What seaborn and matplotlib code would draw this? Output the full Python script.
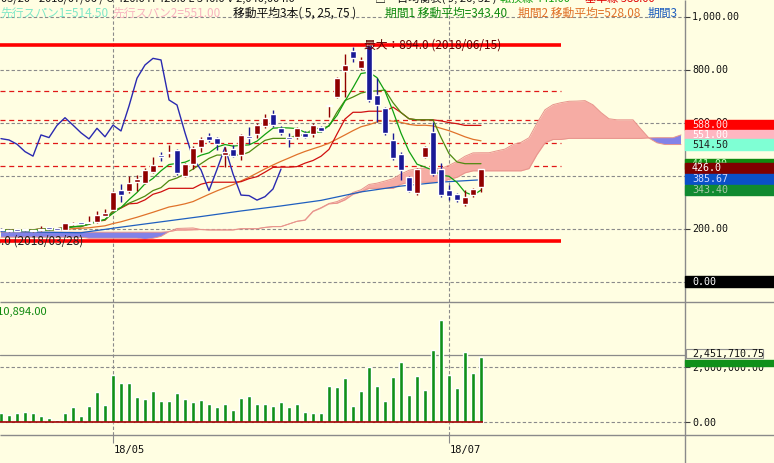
import numpy as np
import pandas as pd
import matplotlib
matplotlib.use('Agg')
import matplotlib.pyplot as plt
from matplotlib.patches import Rectangle
import seaborn as sns

# ローソク足 (日足, 61本)
opens = [200, 198, 197, 197, 192, 196, 207, 199, 197, 218, 225, 222, 225, 250, 272, 347,
         343, 379, 375, 414, 479, 486, 498, 400, 445, 508, 551, 545, 479, 501, 478, 548,
         557, 589, 634, 582, 548, 548, 563, 559, 584, 664, 699, 797, 873, 806, 894, 705,
         655, 536, 483, 397, 337, 473, 567, 425, 347, 331, 293, 328, 360]
highs = [203, 200, 199, 199, 198, 212, 209, 201, 222, 228, 227, 248, 268, 276, 342, 368,
         400, 404, 430, 472, 490, 517, 502, 450, 512, 548, 563, 548, 508, 517, 560, 585,
         600, 634, 649, 590, 561, 585, 570, 600, 590, 666, 772, 860, 886, 850, 894, 769,
         660, 561, 490, 400, 432, 512, 605, 449, 366, 335, 347, 355, 428]
lows = [193, 190, 192, 193, 190, 194, 198, 195, 195, 216, 218, 218, 222, 248, 268, 300,
        335, 345, 370, 410, 457, 473, 405, 395, 426, 492, 530, 498, 435, 470, 460, 521,
        545, 580, 585, 555, 510, 540, 545, 548, 565, 624, 695, 700, 831, 800, 680, 605,
        555, 460, 385, 338, 330, 468, 400, 322, 309, 301, 288, 322, 340]
closes = [195, 193, 194, 195, 196, 197, 200, 197, 221, 224, 220, 224, 253, 259, 340, 328,
          374, 388, 423, 442, 471, 492, 410, 445, 505, 541, 536, 520, 492, 475, 555, 545,
          591, 620, 592, 563, 540, 580, 548, 592, 570, 664, 769, 819, 844, 838, 687, 668,
          563, 467, 423, 345, 425, 508, 408, 328, 326, 309, 322, 351, 426]
# 出来高 (百万株)
volumes = [0.32, 0.25, 0.32, 0.36, 0.32, 0.22, 0.13, 0.09, 0.32, 0.53, 0.22, 0.58, 1.09,
           0.62, 1.70, 1.41, 1.41, 0.90, 0.84, 1.13, 0.76, 0.76, 1.04, 0.84, 0.72, 0.80,
           0.65, 0.54, 0.64, 0.44, 0.88, 0.95, 0.64, 0.64, 0.59, 0.72, 0.53, 0.64, 0.35,
           0.33, 0.33, 1.31, 1.26, 1.60, 0.60, 1.13, 1.99, 1.31, 0.75, 1.62, 2.18, 0.97,
           1.67, 1.16, 2.62, 3.71, 1.70, 1.22, 2.56, 1.77, 2.36]

# 表示期間より前のデータに依存する部分
span1_early = [169, 169, 169, 169, 169, 169, 169, 169, 169, 169, 169, 165, 165, 165, 165,
               165, 165, 165, 161, 165, 172, 190, 202, 203, 204]
span2_early = [188, 188, 188, 188, 188, 188, 188, 188, 188, 188, 188, 188, 188, 188, 188,
               188, 188, 188, 188, 188, 188, 190, 196, 196, 197]
ma75_idx = [0, 5, 10, 15, 20, 25, 30, 35, 40, 45, 50, 55, 60]
ma75_val = [190, 188, 186, 207, 227, 247, 268, 287, 308, 340, 362, 377, 385.67]

hi_price, hi_idx, hi_date = 894.0, 46, '2018/06/15'
lo_price, lo_date = 153.0, '2018/03/28'
fib_ratios = [0.236, 0.382, 0.5, 0.618]

month_idx = [14, 56]
month_labels = ['18/05', '18/07']
price_ticks = [0, 200, 400, 600, 800, 1000]
vol_ticks = [0, 2000000]
vol_avg = 2451710.75

last = {'tenkan': 441.00, 'kijun': 588.00, 'span1': 514.50, 'span2': 551.00,
        'ma5': 343.40, 'ma25': 528.08, 'ma75': 385.67, 'close': 426.0}

# 指標計算
df = pd.DataFrame({'o': opens, 'h': highs, 'l': lows, 'c': closes})
df['i'] = np.arange(len(df))
df['ma5'] = df.c.rolling(5, min_periods=1).mean()
df['ma25'] = df.c.rolling(25, min_periods=1).mean()
tenkan = (df.h.rolling(9, min_periods=1).max() + df.l.rolling(9, min_periods=1).min()) / 2
kijun = (df.h.rolling(26, min_periods=1).max() + df.l.rolling(26, min_periods=1).min()) / 2
span1 = (tenkan + kijun) / 2
span2 = (df.h.rolling(52, min_periods=1).max() + df.l.rolling(52, min_periods=1).min()) / 2
df['tenkan'] = tenkan
df['kijun'] = kijun
chikou = df.c.shift(-25).dropna()

s1 = np.array(span1_early + list(span1))
s2 = np.array(span2_early + list(span2))
xc = np.arange(len(s1))

# スタイル
bg = '#fffee2'
sns.set_style('white', rc={'axes.facecolor': bg, 'figure.facecolor': bg})
plt.rcParams['font.family'] = ['Noto Sans CJK JP', 'DejaVu Sans']
mono = 'DejaVu Sans Mono'
grid_c = '#8a8a8a'

W, H = 774, 463
fig = plt.figure(figsize=(W / 100, H / 100), dpi=100)
fig.patch.set_facecolor(bg)


def frame(x0, y0, x1, y1):
    return [x0 / W, 1 - y1 / H, (x1 - x0) / W, (y1 - y0) / H]


ax = fig.add_axes(frame(0, 0, 685, 302))
axv = fig.add_axes(frame(0, 302, 685, 435))
ov = fig.add_axes([0, 0, 1, 1])
ov.set_xlim(0, W)
ov.set_ylim(H, 0)
ov.axis('off')
ov.set_zorder(10)

for a in (ax, axv):
    a.set_xlim(-0.125, 85.5)
    a.axis('off')
ax.set_ylim(-75.5, 1064.2)
axv.set_ylim(-0.4727e6, 4.3636e6)


def to_px(a, x, y):
    return ov.transData.inverted().transform(a.transData.transform((x, y)))


# グリッド
for p in price_ticks:
    ax.axhline(p, color=grid_c, lw=0.8, ls=(0, (3, 2)), zorder=0)
for v in vol_ticks:
    axv.axhline(v, color=grid_c, lw=0.8, ls=(0, (3, 2)), zorder=0)
for m in month_idx:
    ax.axvline(m, color=grid_c, lw=0.8, ls=(0, (3, 2)), zorder=0)
    axv.axvline(m, color=grid_c, lw=0.8, ls=(0, (3, 2)), zorder=0)

# フィボナッチ・最大最小
rng = hi_price - lo_price
fib_levels = [hi_price - r * rng for r in fib_ratios]
ax.hlines(fib_levels, -0.125, 70, colors='#e01818', lw=0.9, linestyles=(0, (4, 3)), zorder=1)
ax.hlines([hi_price, lo_price], -0.125, 70, colors='#ff0000', lw=2.6, zorder=2)

# 雲
ax.fill_between(xc, s1, s2, where=s1 >= s2, interpolate=True, color='#f6aca4', lw=0, zorder=1)
ax.fill_between(xc, s1, s2, where=s2 > s1, interpolate=True, color='#8282e8', lw=0, zorder=1)
ax.plot(xc, s1, color='#e8948c', lw=0.7, zorder=1)
ax.plot(xc, s2, color='#e8948c', lw=0.7, zorder=1)

# 線
sns.lineplot(x=ma75_idx, y=ma75_val, ax=ax, color='#1f5fbf', lw=0.9, zorder=3)
sns.lineplot(data=df, x='i', y='ma25', ax=ax, color='#e0722a', lw=0.9, zorder=3)
sns.lineplot(data=df, x='i', y='kijun', ax=ax, color='#d01010', lw=0.9, zorder=3)
sns.lineplot(data=df, x='i', y='tenkan', ax=ax, color='#4f8a10', lw=0.9, zorder=3)
sns.lineplot(data=df, x='i', y='ma5', ax=ax, color='#10a010', lw=0.9, zorder=3)
sns.lineplot(x=chikou.index, y=chikou.values, ax=ax, color='#2a2ab0', lw=1.0, zorder=3)

# ローソク足
up = df.c >= df.o
cols = np.where(up, '#900000', '#1a1a96')
ax.vlines(df.i, df.l, df.h, colors=cols, lw=1, zorder=4)
ax.bar(df.i, np.maximum((df.c - df.o).abs(), 5), bottom=np.minimum(df.o, df.c),
       width=0.72, color=cols, zorder=5)

ax.text(hi_idx - 0.6, hi_price, f'最大：{hi_price:.1f} ({hi_date})', color='#600000',
        fontsize=8.5, va='center', ha='left', zorder=6)

# 出来高
axv.bar(df.i, np.array(volumes) * 1e6, width=0.4, color='#10901a', zorder=3)
axv.hlines(0, -0.125, len(df) - 0.7, colors='#a00000', lw=1.2, zorder=4)
axv.axhline(vol_avg, color=grid_c, lw=0.9, zorder=1)

# 枠線
ov.hlines([302, 435], 0, W, colors=grid_c, lw=1)
ov.vlines(685, 0, H, colors=grid_c, lw=1)

# 右側の目盛
for p in price_ticks[1:]:
    y = to_px(ax, 0, p)[1]
    ov.hlines(y, 685, 690, colors='#404040', lw=0.8)
    ov.text(692, y, f'{p:,.2f}', fontsize=7.2, family=mono, va='center', color='#111111',
            zorder=2)
y0 = to_px(ax, 0, 0)[1]
ov.add_patch(Rectangle((685, y0 - 5.5), 89, 11, color='black', zorder=3))
ov.text(692, y0, '0.00', fontsize=7.2, family=mono, va='center', color='white', zorder=4)

boxes = [(last['kijun'], '#ff0000', '#ffe0e0'),
         (last['span2'], '#ffb6c1', '#ffffff'),
         (last['span1'], '#7fffd4', '#202020'),
         (last['tenkan'], '#108a10', '#c0ffc0'),
         (last['close'], '#800000', '#ffffff'),
         (last['ma75'], '#0a50c8', '#d0d8ff'),
         (last['ma5'], '#108a30', '#a8c8a8')]
for k, (val, fc, tc) in enumerate(boxes):
    y = to_px(ax, 0, val)[1] - 1
    ov.add_patch(Rectangle((685, y - 5.2), 89, 10.4, color=fc, zorder=3 + 2 * k))
    txt = f'{val:.1f}' if val == last['close'] else f'{val:.2f}'
    ov.text(692, y, txt, fontsize=7.2, family=mono, va='center', color=tc, zorder=4 + 2 * k)

for v in vol_ticks:
    y = to_px(axv, 0, v)[1]
    ov.hlines(y, 685, 690, colors='#404040', lw=0.8)
    ov.text(692, y + 1, f'{v:,.2f}', fontsize=7.2, family=mono, va='center', color='#111111',
            zorder=2)
ya = to_px(axv, 0, vol_avg)[1] - 1
yl = to_px(axv, 0, volumes[-1] * 1e6)[1]
ov.add_patch(Rectangle((685, yl + 3), 89, 5.5, color='#10901a', zorder=3))
ov.add_patch(Rectangle((686, ya - 4.5), 77, 9, facecolor=bg, edgecolor='#909090', lw=0.8, zorder=4))
ov.text(692, ya, f'{vol_avg:,.2f}', fontsize=7.2, family=mono, va='center', color='#111111', zorder=5)

# 日付
for m, lab in zip(month_idx, month_labels):
    x = to_px(axv, m, 0)[0]
    ov.vlines(x, 435, 443, colors=grid_c, lw=0.8)
    ov.text(x + 1, 450, lab, fontsize=7.5, family=mono, va='center', color='#111111')

# 見出し (上端で切れている行)
ov.text(-28, -1.5, '2018/03/20 - 2018/07/06 / O 420.0 H 426.0 L 340.0 V 2,040,004.0',
        fontsize=8, va='center', color='#111111')
ov.text(375, -1.5, '□', fontsize=8, va='center', color='#111111')
ov.text(386, -1.5, '一目均衡表( 9, 26, 52 )', fontsize=8, va='center', color='#111111')
ov.text(500, -1.5, f'転換線 {last["tenkan"]:.2f}', fontsize=8, va='center', color='#10a010')
ov.text(585, -1.5, f'基準線 {last["kijun"]:.2f}', fontsize=8, va='center', color='#e00000')

ov.text(0, 13, f'先行スパン1={last["span1"]:.2f}', fontsize=8.5, va='center', color='#80e8c8')
ov.text(112, 13, f'先行スパン2={last["span2"]:.2f}', fontsize=8.5, va='center', color='#f8b4c0')
ov.text(233, 13, '移動平均3本( 5, 25, 75 )', fontsize=8.5, va='center', color='#111111')
ov.text(385, 13, f'期間1 移動平均={last["ma5"]:.2f}', fontsize=8.5, va='center', color='#108a10')
ov.text(518, 13, f'期間2 移動平均={last["ma25"]:.2f}', fontsize=8.5, va='center', color='#e0722a')
ov.text(648, 13, '期間3', fontsize=8.5, va='center', color='#1f5fbf')

ylo = to_px(ax, 0, lo_price)[1]
ov.text(83, ylo, f'最小：{lo_price:.1f} ({lo_date})', fontsize=8.5, va='center', ha='right',
        color='#202020')
ov.text(47, 311, '出来高 3,710,894.00', fontsize=8, va='center', ha='right', color='#108a10')

fig.savefig('out.png', dpi=100, facecolor=bg)
